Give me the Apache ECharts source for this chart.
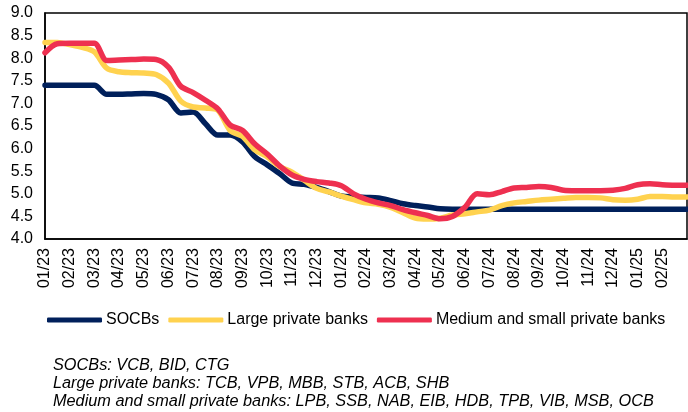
<!DOCTYPE html>
<html>
<head>
<meta charset="utf-8">
<script src="https://cdn.jsdelivr.net/npm/echarts@6/dist/echarts.min.js"></script>
<style>
  html, body { margin: 0; padding: 0; background: #fff; }
  #chart { width: 688px; height: 412px; }
</style>
</head>
<body>
<div id="chart"></div>
<script>
// month labels, two points per month (start / mid)
const monthLabels = ['01/23', '02/23', '03/23', '04/23', '05/23', '06/23', '07/23', '08/23', '09/23', '10/23', '11/23', '12/23',
  '01/24', '02/24', '03/24', '04/24', '05/24', '06/24', '07/24', '08/24', '09/24', '10/24', '11/24', '12/24',
  '01/25', '02/25'];

const socbs = [7.4, 7.4, 7.4, 7.4, 7.4, 7.2, 7.2, 7.21, 7.22, 7.2,
  7.08, 6.79, 6.81, 6.55, 6.3, 6.3, 6.15, 5.82, 5.64, 5.45,
  5.24, 5.21, 5.14, 5.05, 4.95, 4.93, 4.92, 4.91, 4.85, 4.78,
  4.74, 4.71, 4.67, 4.66, 4.66, 4.66, 4.66, 4.66, 4.66, 4.66,
  4.66, 4.66, 4.66, 4.66, 4.66, 4.66, 4.66, 4.66, 4.66, 4.66,
  4.66, 4.66, 4.66];

const largePrivate = [8.35, 8.35, 8.3, 8.24, 8.14, 7.78, 7.7, 7.68, 7.67, 7.64,
  7.45, 7.05, 6.92, 6.9, 6.85, 6.4, 6.27, 5.97, 5.82, 5.6,
  5.48, 5.3, 5.12, 5.04, 4.95, 4.87, 4.8, 4.77, 4.7, 4.58,
  4.46, 4.44, 4.46, 4.53, 4.56, 4.6, 4.64, 4.74, 4.8, 4.83,
  4.86, 4.88, 4.9, 4.92, 4.92, 4.91, 4.87, 4.86, 4.88, 4.94,
  4.94, 4.93, 4.93];

const mediumSmall = [8.12, 8.32, 8.33, 8.33, 8.33, 7.95, 7.96, 7.97, 7.98, 7.97,
  7.8, 7.38, 7.24, 7.07, 6.88, 6.52, 6.4, 6.1, 5.88, 5.62,
  5.42, 5.32, 5.27, 5.24, 5.18, 5.0, 4.88, 4.8, 4.74, 4.65,
  4.58, 4.52, 4.45, 4.5, 4.7, 5.0, 4.98, 5.05, 5.13, 5.14,
  5.16, 5.14, 5.08, 5.07, 5.07, 5.07, 5.08, 5.12, 5.2, 5.22,
  5.2, 5.19, 5.19];

const seriesNames = ['SOCBs', 'Large private banks', 'Medium and small private banks'];
const seriesColors = ['#00205b', '#ffd24f', '#ee3050'];

const footnotes = [
  'SOCBs: VCB, BID, CTG',
  'Large private banks: TCB, VPB, MBB, STB, ACB, SHB',
  'Medium and small private banks: LPB, SSB, NAB, EIB, HDB, TPB, VIB, MSB, OCB'
];

// category axis: each month gets a start point and a mid-month point
const categories = socbs.map((v, i) => (i % 2 === 0 && monthLabels[i / 2]) ? monthLabels[i / 2] : '');

const chart = echarts.init(document.getElementById('chart'), null, { renderer: 'canvas' });

const font = 'Liberation Sans, Arial, sans-serif';

const option = {
  animation: false,
  textStyle: { fontFamily: font },
  grid: {
    left: 45, right: 1, top: 13, bottom: 173,
    show: true, borderColor: '#000', borderWidth: 1.5, backgroundColor: 'transparent'
  },
  legend: {
    top: 307,
    left: 42,
    itemWidth: 55,
    itemHeight: 5,
    itemGap: 9,
    icon: 'roundRect',
    textStyle: { fontSize: 16, color: '#000', fontFamily: font, padding: [0, 0, 0, -1] },
    data: seriesNames
  },
  xAxis: {
    type: 'category',
    data: categories,
    boundaryGap: false,
    axisLine: { lineStyle: { color: '#000', width: 1.5 } },
    axisTick: { show: false },
    axisLabel: {
      rotate: 90,
      interval: 0,
      margin: 9,
      fontSize: 16,
      color: '#000',
      fontFamily: font
    },
    splitLine: { show: false }
  },
  yAxis: {
    type: 'value',
    min: 4,
    max: 9,
    interval: 0.5,
    axisLine: { show: true, lineStyle: { color: '#000', width: 1.5 } },
    axisTick: { show: false },
    splitLine: { show: false },
    axisLabel: {
      margin: 12,
      fontSize: 16,
      color: '#000',
      fontFamily: font,
      formatter: v => v.toFixed(1)
    }
  },
  series: [socbs, largePrivate, mediumSmall].map((d, i) => ({
    name: seriesNames[i],
    type: 'line',
    data: d,
    symbol: 'none',
    smooth: 0.3,
    color: seriesColors[i],
    lineStyle: { width: 5.5, color: seriesColors[i], cap: 'round', join: 'round' }
  })),
  graphic: [{
    type: 'text',
    left: 53,
    top: 356,
    style: {
      text: footnotes.join('\n'),
      font: 'italic 16.3px ' + font,
      lineHeight: 18,
      fill: '#000'
    }
  }]
};

chart.setOption(option);
</script>
</body>
</html>
